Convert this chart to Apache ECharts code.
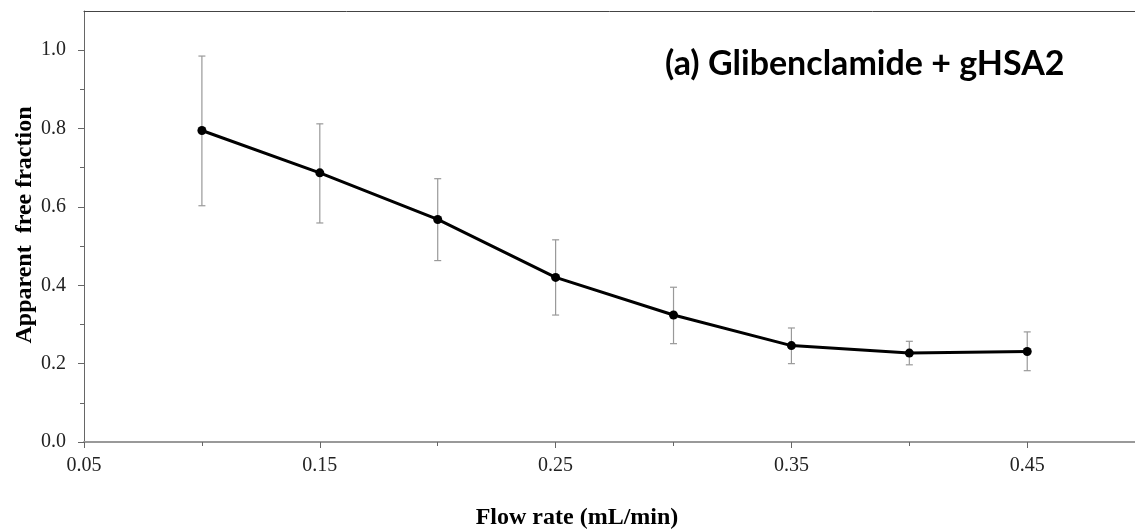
<!DOCTYPE html>
<html>
<head>
<meta charset="utf-8">
<script src="https://cdn.jsdelivr.net/npm/echarts@6/dist/echarts.min.js"></script>
<style>
html,body{margin:0;padding:0;background:#fff;}
#chart{width:1135px;height:531px;}
</style>
</head>
<body>
<div id="chart"></div>
<script>
// ---- data ----
var flowRates = [0.10, 0.15, 0.20, 0.25, 0.30, 0.35, 0.40, 0.45];
var freeFraction = [0.795, 0.687, 0.568, 0.420, 0.324, 0.246, 0.227, 0.231];
var errHigh = [0.985, 0.812, 0.672, 0.516, 0.395, 0.291, 0.257, 0.281];
var errLow  = [0.603, 0.559, 0.463, 0.324, 0.251, 0.200, 0.197, 0.182];
var xMajorTicks = [0.05, 0.15, 0.25, 0.35, 0.45];
var xMinorTicks = [0.10, 0.20, 0.30, 0.40];
var yMajorTicks = [0.0, 0.2, 0.4, 0.6, 0.8, 1.0];
var yMinorTicks = [0.1, 0.3, 0.5, 0.7, 0.9];
var titleText = '(a) Glibenclamide + gHSA2';
var xTitle = 'Flow rate (mL/min)';
var yTitle = 'Apparent  free fraction';

var lineData = flowRates.map(function (x, i) { return [x, freeFraction[i]]; });
var errData = flowRates.map(function (x, i) { return [x, errLow[i], errHigh[i]]; });

var chart = echarts.init(document.getElementById('chart'), null, {renderer: 'canvas'});
var tickFont = {fontFamily: '"Liberation Serif", "Times New Roman", serif', fontSize: 20, color: '#222'};
var X_MIN = 0.05, X_MAX = 0.4957;

var option = {
  backgroundColor: '#fff',
  animation: false,
  grid: {left: 84, right: 0, top: 11, bottom: 89, show: false},
  xAxis: [
    {
      type: 'value', min: X_MIN, max: X_MAX, position: 'bottom',
      axisLine: {show: true, onZero: false, lineStyle: {color: '#999', width: 2}},
      axisTick: {show: true, length: 6, customValues: xMajorTicks, lineStyle: {color: '#666', width: 1}},
      axisLabel: Object.assign({margin: 14, customValues: xMajorTicks, formatter: function (v) { return v.toFixed(2); }}, tickFont),
      splitLine: {show: false}
    },
    {
      type: 'value', min: X_MIN, max: X_MAX, position: 'bottom',
      axisLine: {show: false},
      axisTick: {show: true, length: 4, customValues: xMinorTicks, lineStyle: {color: '#666', width: 1}},
      axisLabel: {show: false},
      splitLine: {show: false}
    },
    {
      type: 'value', min: X_MIN, max: X_MAX, position: 'top',
      axisLine: {show: true, onZero: false, lineStyle: {color: '#444', width: 1}},
      axisTick: {show: false},
      axisLabel: {show: false},
      splitLine: {show: false}
    }
  ],
  yAxis: [
    {
      type: 'value', min: 0, max: 1.1, position: 'left',
      axisLine: {show: true, onZero: false, lineStyle: {color: '#666', width: 1}},
      axisTick: {show: true, length: 6, customValues: yMajorTicks, lineStyle: {color: '#666', width: 1}},
      axisLabel: Object.assign({margin: 18, customValues: yMajorTicks, formatter: function (v) { return v.toFixed(1); }}, tickFont),
      splitLine: {show: false}
    },
    {
      type: 'value', min: 0, max: 1.1, position: 'left',
      axisLine: {show: false},
      axisTick: {show: true, length: 4, customValues: yMinorTicks, lineStyle: {color: '#666', width: 1}},
      axisLabel: {show: false},
      splitLine: {show: false}
    }
  ],
  series: [
    {
      type: 'custom',
      xAxisIndex: 0, yAxisIndex: 0,
      data: errData,
      encode: {x: 0, y: [1, 2]},
      z: 2,
      renderItem: function (params, api) {
        var x = api.value(0);
        var top = api.coord([x, api.value(2)]);
        var bot = api.coord([x, api.value(1)]);
        var hw = 3.5;
        var st = {stroke: '#999', lineWidth: 1.2};
        return {
          type: 'group',
          children: [
            {type: 'line', shape: {x1: top[0], y1: top[1], x2: bot[0], y2: bot[1]}, style: st},
            {type: 'line', shape: {x1: top[0] - hw, y1: top[1], x2: top[0] + hw, y2: top[1]}, style: st},
            {type: 'line', shape: {x1: bot[0] - hw, y1: bot[1], x2: bot[0] + hw, y2: bot[1]}, style: st}
          ]
        };
      }
    },
    {
      type: 'line',
      xAxisIndex: 0, yAxisIndex: 0,
      data: lineData,
      z: 3,
      symbol: 'circle',
      symbolSize: 9,
      lineStyle: {color: '#000', width: 3},
      itemStyle: {color: '#000'}
    }
  ],
  graphic: [
    {
      type: 'text', left: 665, top: 47,
      style: {text: titleText, font: 'bold 34px Lato, "Open Sans", sans-serif', fill: '#000'}
    },
    {
      type: 'text', x: 577, y: 518,
      style: {text: xTitle, font: 'bold 24px "Liberation Serif", "Times New Roman", serif', fill: '#000', align: 'center', verticalAlign: 'middle'}
    },
    {
      type: 'text', x: 25, y: 225, rotation: Math.PI / 2,
      style: {text: yTitle, font: 'bold 24px "Liberation Serif", "Times New Roman", serif', fill: '#000', align: 'center', verticalAlign: 'middle'}
    }
  ]
};
chart.setOption(option);
</script>
</body>
</html>
